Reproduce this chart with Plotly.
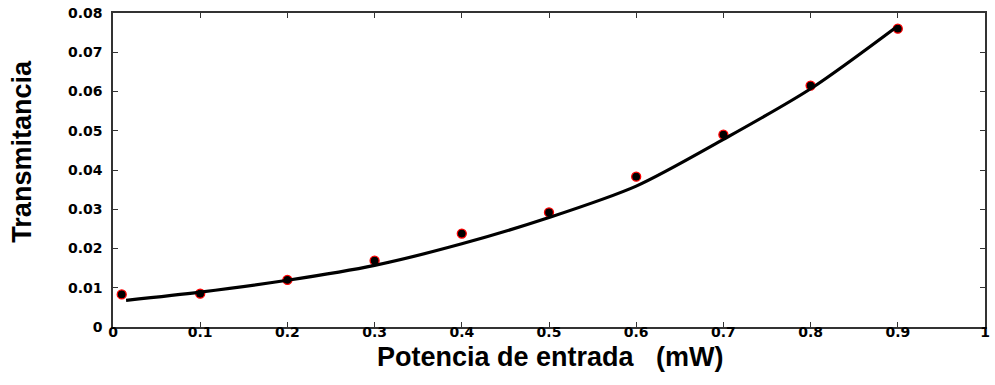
import plotly.graph_objects as go

# Measured data points
power_mw = [0.01, 0.1, 0.2, 0.3, 0.4, 0.5, 0.6, 0.7, 0.8, 0.9]
transmit = [0.0083, 0.0085, 0.0120, 0.0169, 0.0238, 0.0292, 0.0383, 0.0490, 0.0615, 0.0760]

# Fitted curve
fit_x = [0.015, 0.1, 0.2, 0.3, 0.4, 0.5, 0.6, 0.7, 0.8, 0.9]
fit_y = [0.0068, 0.0089, 0.0119, 0.0157, 0.0212, 0.0279, 0.0359, 0.0478, 0.0607, 0.0767]

x_ticks = [0, 0.1, 0.2, 0.3, 0.4, 0.5, 0.6, 0.7, 0.8, 0.9, 1]
x_tick_labels = ["0", "0.1", "0.2", "0.3", "0.4", "0.5", "0.6", "0.7", "0.8", "0.9", "1"]
y_ticks = [0, 0.01, 0.02, 0.03, 0.04, 0.05, 0.06, 0.07, 0.08]
y_tick_labels = ["0", "0.01", "0.02", "0.03", "0.04", "0.05", "0.06", "0.07", "0.08"]

fig = go.Figure()
fig.add_trace(go.Scatter(
    x=power_mw, y=transmit, mode="markers",
    marker=dict(symbol="circle", size=9, color="black",
                line=dict(color="red", width=1.3)),
    showlegend=False, hoverinfo="x+y"))
fig.add_trace(go.Scatter(
    x=fit_x, y=fit_y, mode="lines",
    line=dict(color="black", width=3.2, shape="spline", smoothing=0.8),
    showlegend=False))

tick_font = dict(family="DejaVu Sans", size=14, color="black")
axis_common = dict(
    showgrid=False, zeroline=False, showline=True, linecolor="#333333",
    linewidth=1.5, mirror="ticks", ticks="inside", ticklen=5,
    tickcolor="#333333", tickwidth=1, tickfont=tick_font,
    ticklabeloverflow="allow")

L, R, T, B = 113, 5, 11, 58
W, H = 995, 385
pw, ph = W - L - R, H - T - B

fig.update_layout(
    width=W, height=H,
    margin=dict(l=L, r=R, t=T, b=B),
    plot_bgcolor="white", paper_bgcolor="white",
    xaxis=dict(range=[0, 1], tickvals=x_ticks, ticktext=[f"<b>{t}</b>" for t in x_tick_labels],
               ticklabelstandoff=-9,
               **axis_common),
    yaxis=dict(range=[0, 0.08], tickvals=y_ticks, ticktext=[f"<b>{t}</b>" for t in y_tick_labels],
               ticklabelstandoff=6,
               **axis_common),
    annotations=[
        dict(text="<b>Transmitancia</b>", textangle=-90, showarrow=False,
             xref="paper", yref="paper", x=(22 - L) / pw, y=(327 - 150) / ph,
             xanchor="center", yanchor="middle",
             font=dict(family="Liberation Sans", size=27, color="black")),
        dict(text="<b>Potencia de entrada   (mW)</b>", showarrow=False,
             xref="paper", yref="paper", x=(553 - L) / pw, y=(327 - 357) / ph,
             xanchor="center", yanchor="middle",
             font=dict(family="Liberation Sans", size=27, color="black")),
    ],
)

fig.write_html(
    "out.html",
    config={"displayModeBar": False},
    post_script="document.body.style.margin='0';document.body.style.overflow='hidden';",
)
